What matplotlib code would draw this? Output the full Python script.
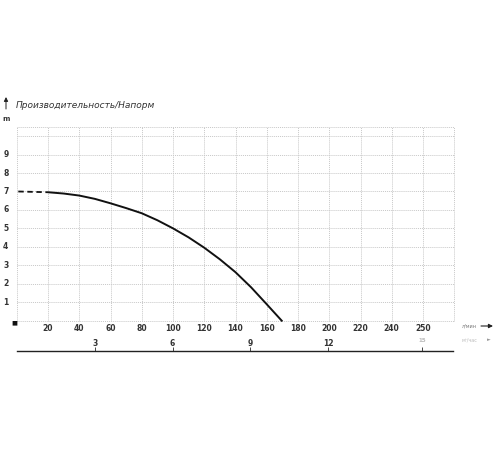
import matplotlib
matplotlib.use("Agg")
import matplotlib.pyplot as plt
from matplotlib.patches import FancyArrowPatch

# data
flow_lpm = [20, 30, 40, 50, 60, 70, 80, 90, 100, 110, 120, 130, 140, 150, 160, 170]
head_m = [6.96, 6.89, 6.78, 6.6, 6.36, 6.1, 5.82, 5.44, 5.0, 4.51, 3.95, 3.32, 2.62, 1.8, 0.88, -0.05]
dash_x = [1, 20]
dash_y = [7.0, 6.96]
x_ticks = [20, 40, 60, 80, 100, 120, 140, 160, 180, 200, 220, 240, 260]
x_labels = ["20", "40", "60", "80", "100", "120", "140", "160", "180", "200", "220", "240", "250"]
y_ticks = [1, 2, 3, 4, 5, 6, 7, 8, 9]
m3h_ticks = [3, 6, 9, 12]
title = "Производительность/Напорм"

fig = plt.figure(figsize=(5, 4.5), dpi=100)
W, H = 500, 450
ax = fig.add_axes([16.75 / W, 1 - 320.5 / H, (454.25 - 16.75) / W, (320.5 - 127) / H])
ax.set_xlim(0, 280)
ax.set_ylim(0, 10.5)
for s in ax.spines.values():
    s.set_visible(False)
ax.set_xticks([])
ax.set_yticks([])

gkw = dict(color="#c8c8c8", lw=0.7, ls=(0, (1, 1)), clip_on=False, zorder=1)
for xv in range(0, 281, 20):
    ax.axvline(xv, **gkw)
for yv in list(range(0, 11)) + [10.5]:
    ax.axhline(yv, **gkw)

ax.plot(dash_x, dash_y, color="#111", lw=1.3, ls=(0, (3, 2)), zorder=3)
ax.plot(flow_lpm, head_m, color="#111", lw=1.4, zorder=3, clip_on=False,
        solid_capstyle="butt", solid_joinstyle="round")

tc = "#333333"
fs = 5.5
for xv, lab in zip(x_ticks, x_labels):
    ax.annotate(lab, (xv, 0), xytext=(0, -8), textcoords="offset pixels",
                ha="center", va="center", fontsize=fs, fontweight="bold", color=tc)
for yv in y_ticks:
    ax.annotate(str(yv), (0, yv), xytext=(-11, 0), textcoords="offset pixels",
                ha="center", va="center", fontsize=fs, fontweight="bold", color=tc)


def fx(px):
    return px / W


def fy(py):
    return 1 - py / H


def arrow(p0, p1, lw=0.8):
    fig.add_artist(FancyArrowPatch((fx(p0[0]), fy(p0[1])), (fx(p1[0]), fy(p1[1])),
                   transform=fig.transFigure, arrowstyle="-|>", mutation_scale=6,
                   lw=lw, color="#222", shrinkA=0, shrinkB=0))


# small square at origin
fig.text(fx(14), fy(323), "■", fontsize=4.5, ha="center", va="center", color="#111")
# title and units
fig.text(fx(16), fy(106), title, fontsize=6.5, style="italic", ha="left", va="center", color="#333")
fig.text(fx(6), fy(119), "m", fontsize=5, fontweight="bold", ha="center", va="center", color=tc)
arrow((6, 109), (6, 97), lw=0.7)

# flow unit label + arrow
fig.text(fx(469), fy(326), "л/мин", fontsize=3.5, ha="center", va="center", color="#777")
arrow((481, 326), (493, 326))

# secondary m3/h axis
ax2 = fig.add_axes([16.75 / W, 1 - 351 / H, (453 - 16.75) / W, 0.001])
ax2.set_xlim(0, 280 * 0.06)
ax2.set_ylim(0, 1)
ax2.set_yticks([])
for k in ["left", "right", "top"]:
    ax2.spines[k].set_visible(False)
ax2.spines["bottom"].set_color("#222")
ax2.spines["bottom"].set_linewidth(1.0)
ax2.patch.set_visible(False)
ax2.set_xticks(m3h_ticks + [15.6])
ax2.tick_params(axis="x", direction="in", length=3, width=0.7, color="#444",
                labelbottom=False)
for t in m3h_ticks:
    ax2.annotate(str(t), (t, 0), xytext=(0, 8), textcoords="offset pixels",
                 ha="center", va="center", fontsize=fs, fontweight="bold", color=tc)
ax2.annotate("15", (15.6, 0), xytext=(0, 11), textcoords="offset pixels",
             ha="center", va="center", fontsize=4, color="#bbbbbb", fontweight="bold")
fig.text(fx(469), fy(340), "м³/час", fontsize=3.5, ha="center", va="center", color="#bbbbbb")
fig.text(fx(489), fy(340), "►", fontsize=3.5, ha="center", va="center", color="#999999")

fig.savefig("out.png", dpi=100, facecolor="white")
